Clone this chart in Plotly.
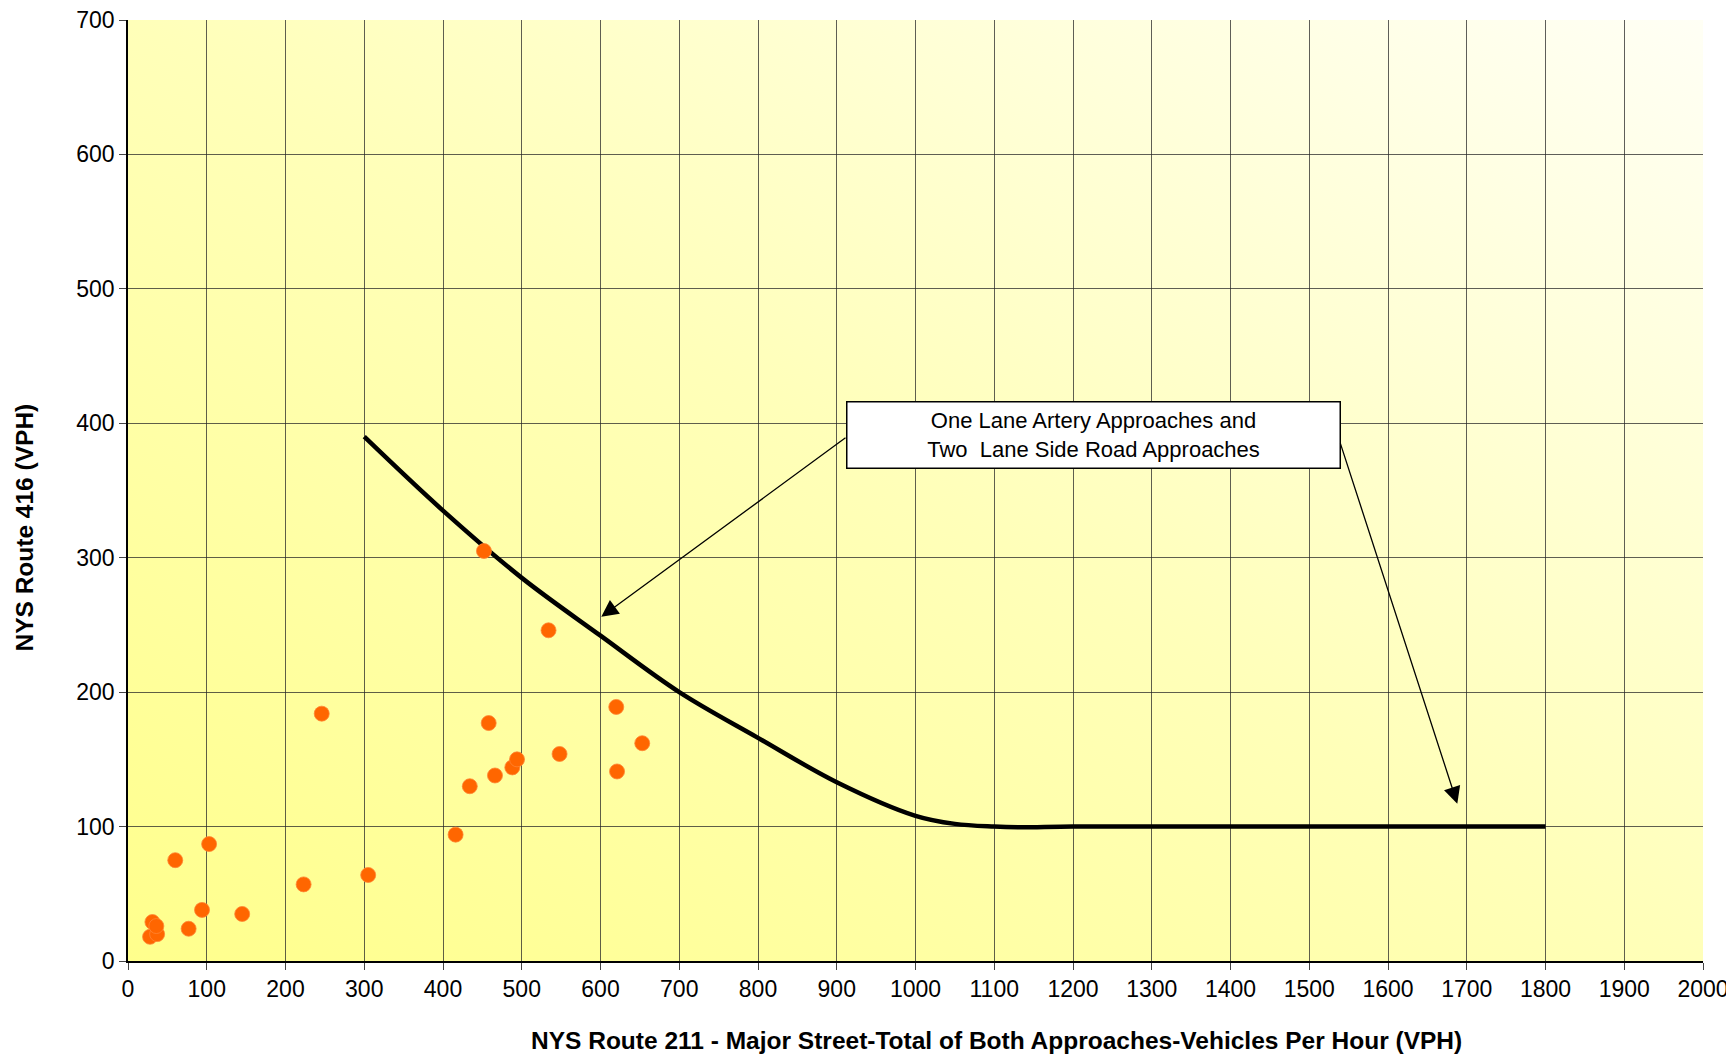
import base64

import plotly.graph_objects as go

# Observed intersection volumes (major street total vs side road)
MAJOR_VPH = [28, 37, 31, 36, 60, 103, 94, 77, 145, 223, 305, 246,
             416, 434, 452, 458, 466, 488, 494, 534, 548, 620, 621, 653]
MINOR_VPH = [18, 20, 29, 26, 75, 87, 38, 24, 35, 57, 64, 184,
             94, 130, 305, 177, 138, 144, 150, 246, 154, 189, 141, 162]

# Warrant curve: one lane artery / two lane side road
CURVE_X = [300, 400, 500, 600, 700, 800, 900, 1000, 1050, 1100, 1130, 1200, 1400, 1600, 1800]
CURVE_Y = [390, 335, 285, 242, 200, 166, 133, 108, 102, 100, 99.5, 100, 100, 100, 100]

X_TICKS = list(range(0, 2001, 100))
Y_TICKS = list(range(0, 701, 100))

X_TITLE = "NYS Route 211 - Major Street-Total of Both Approaches-Vehicles Per Hour (VPH)"
Y_TITLE = "NYS Route 416 (VPH)"

FONT = "Arial, 'Liberation Sans', sans-serif"

# diagonal yellow-to-white fill of the plot area, like the Excel chart
svg = (
    '<svg xmlns="http://www.w3.org/2000/svg" width="100" height="100" preserveAspectRatio="none">'
    '<defs><linearGradient id="g" x1="0" y1="1" x2="1" y2="0">'
    '<stop offset="0" stop-color="#FFFF8C"/><stop offset="0.5" stop-color="#FFFFB9"/>'
    '<stop offset="1" stop-color="#FFFFF5"/>'
    '</linearGradient></defs><rect width="100" height="100" fill="url(#g)"/></svg>'
)
bg_src = "data:image/svg+xml;base64," + base64.b64encode(svg.encode()).decode()

fig = go.Figure()
fig.add_trace(go.Scatter(x=CURVE_X, y=CURVE_Y, mode="lines", line_shape="spline",
                         line=dict(color="black", width=4.5), hoverinfo="skip"))
fig.add_trace(go.Scatter(x=MAJOR_VPH, y=MINOR_VPH, mode="markers",
                         marker=dict(color="#FF6600", size=15,
                                     line=dict(color="#FF8533", width=0.8))))

fig.add_layout_image(dict(source=bg_src, xref="x", yref="y", x=0, y=700,
                          sizex=2000, sizey=700, sizing="stretch", layer="below"))

# callout box with its two arrows
fig.add_annotation(x=1226, y=391, xref="x", yref="y", showarrow=False,
                   text="One Lane Artery Approaches and<br>Two  Lane Side Road Approaches",
                   font=dict(family=FONT, size=22, color="black"),
                   bgcolor="white", bordercolor="black", borderwidth=1.5,
                   width=488, height=61, borderpad=2)
for hx, hy, tx, ty in [(601, 256, 913, 390), (1688, 117, 1539, 386)]:
    fig.add_annotation(x=hx, y=hy, ax=tx, ay=ty, xref="x", yref="y", axref="x", ayref="y",
                       text="", showarrow=True, arrowhead=2, arrowsize=2.6,
                       arrowwidth=1.3, arrowcolor="black")

# axis titles sit off-centre in the original, so place them as annotations
fig.add_annotation(x=0.5514, y=-0.084, xref="paper", yref="paper", showarrow=False,
                   xanchor="center", yanchor="middle", text=f"<b>{X_TITLE}</b>",
                   font=dict(family=FONT, size=24.5, color="black"))
fig.add_annotation(x=-0.066, y=0.4607, xref="paper", yref="paper", showarrow=False,
                   xanchor="center", yanchor="middle", textangle=-90, text=f"<b>{Y_TITLE}</b>",
                   font=dict(family=FONT, size=24.5, color="black"))

grid = "rgba(40,40,40,0.75)"
axis_style = dict(showgrid=True, gridcolor=grid, gridwidth=1,
                  showline=True, linecolor="black", linewidth=1.5, zeroline=False,
                  ticks="outside", ticklen=7, tickcolor="#444", automargin=False,
                  ticklabeloverflow="allow",
                  tickfont=dict(family=FONT, size=23, color="black"))
fig.update_xaxes(range=[0, 2000], tickvals=X_TICKS, **axis_style)
fig.update_yaxes(range=[0, 700], tickvals=Y_TICKS, **axis_style)

# page body keeps an 8px margin, so size the figure to sit inside the window
fig.update_layout(width=1726, height=1047, showlegend=False,
                  paper_bgcolor="white", plot_bgcolor="#FFFFC8",
                  margin=dict(l=120, r=31, t=12, b=94))

fig.write_html("out.html")
